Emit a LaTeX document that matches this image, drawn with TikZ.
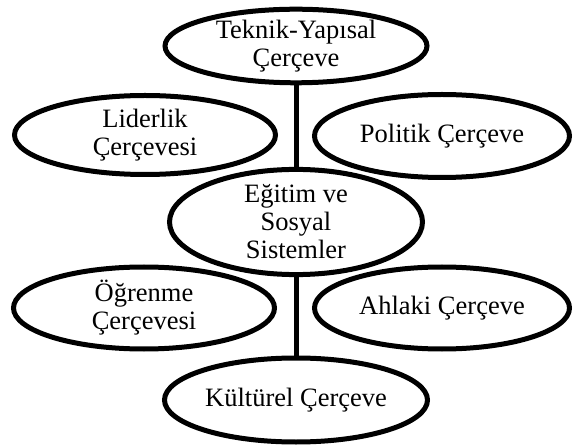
\documentclass[tikz,border=0pt]{standalone}
\usepackage{fontspec}
\setmainfont{Liberation Serif}
\usetikzlibrary{shapes.geometric}
\tikzset{
  frame/.style={ellipse, draw, line width=5pt, inner sep=0pt, align=center,
    font=\fontsize{26.5}{28}\selectfont},
  link/.style={line width=5pt}
}
\begin{document}
\begin{tikzpicture}[x=1pt,y=1pt]
    \useasboundingbox (0,0) rectangle (573,-446);
    \node [frame, minimum width=262, minimum height=73] (teknik) at (296,-46) {Teknik-Yapısal\\Çerçeve};
    \node [frame, minimum width=261, minimum height=79] (liderlik) at (145,-135) {Liderlik\\Çerçevesi};
    \node [frame, minimum width=255, minimum height=83] (politik) at (442,-136) {Politik Çerçeve};
    \node [frame, minimum width=253, minimum height=95] (egitim) at (296,-222) {Eğitim ve\\Sosyal\\Sistemler};
    \node [frame, minimum width=261, minimum height=82] (ogrenme) at (144,-308) {Öğrenme\\Çerçevesi};
    \node [frame, minimum width=255, minimum height=82] (ahlaki) at (442,-308) {Ahlaki Çerçeve};
    \node [frame, minimum width=263, minimum height=84] (kulturel) at (296,-400) {Kültürel Çerçeve};
    \draw [link] (teknik.south) -- (egitim.north);
    \draw [link] (egitim.south) -- (kulturel.north);
  \end{tikzpicture}
\end{document}
